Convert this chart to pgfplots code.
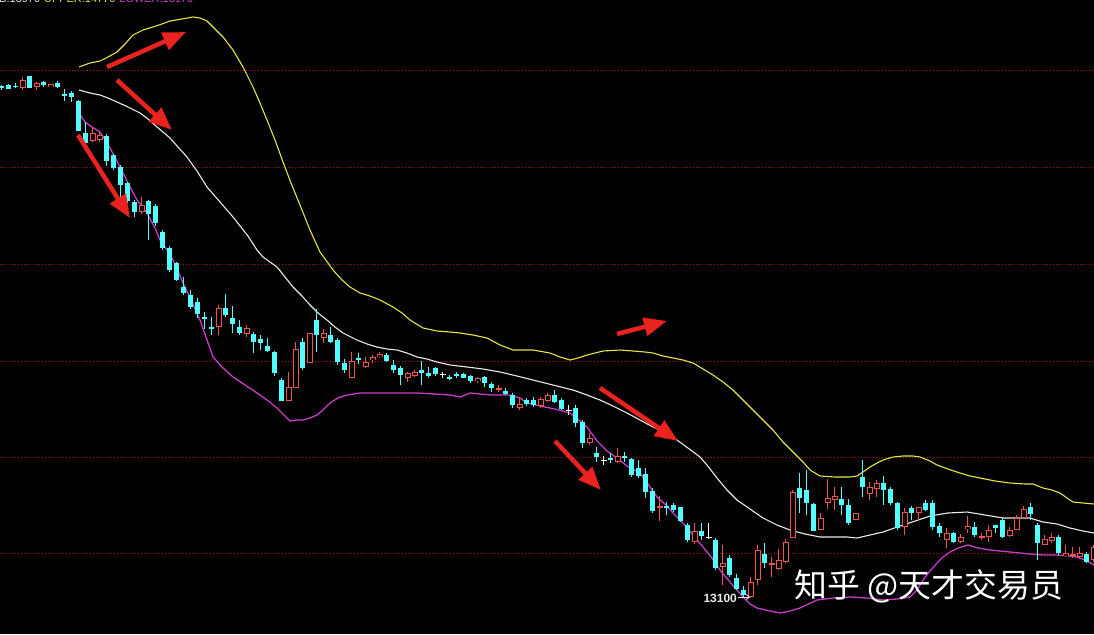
\documentclass[border=0pt]{standalone}
\usepackage{pgfplots}
\pgfplotsset{compat=1.18}
\usepackage{pgfplotstable}
\usepackage{fontspec}
\setmainfont{Liberation Sans}
\newfontfamily\cjk{Noto Sans CJK SC}
\usetikzlibrary{arrows.meta}
\definecolor{cyanc}{RGB}{84,255,255}
\definecolor{redc}{RGB}{235,85,75}
\definecolor{yel}{RGB}{230,230,70}
\definecolor{mag}{RGB}{200,60,200}
\definecolor{wht}{RGB}{235,235,235}
\definecolor{gridr}{RGB}{175,20,20}
\definecolor{arr}{RGB}{235,35,30}

% candles: i = candle index (x = 1.7 + 7 i px), h = high, t = body top, b = body bottom, l = low (screen rows)
\pgfplotstableread{
i h t b l
0 85 86 88 90
1 84 85 89 89
2 83 86 87 88
4 76 76 88 88
6 81 82 85 87
8 81 83 87 88
9 89 94 96 101
10 91 93 97 102
11 100 101 131 131
12 122 133 143 146
15 134 136 161 166
16 154 155 168 170
17 165 167 185 197
18 182 183 201 203
19 200 202 212 217
21 200 201 214 240
22 204 206 223 226
23 230 232 248 250
24 246 248 270 272
25 262 263 280 281
26 277 287 293 295
27 290 295 307 309
28 298 302 314 318
29 312 317 318 329
30 317 327 328 335
32 294 308 315 317
33 306 318 324 333
34 320 327 333 335
36 332 334 342 353
37 335 339 343 350
38 338 346 351 352
39 351 352 373 376
40 378 380 401 401
43 338 342 368 370
45 309 320 335 352
47 327 335 342 343
48 338 340 362 365
49 359 363 370 373
51 353 358 359 364
55 353 355 361 362
56 360 365 370 373
57 366 368 375 385
60 361 370 373 385
61 367 373 376 378
62 367 368 374 376
64 375 378 378 380
65 372 374 376 378
66 373 374 378 378
67 375 376 381 383
69 376 377 383 387
70 382 384 388 392
72 388 391 394 395
73 393 395 405 408
75 398 400 404 406
76 397 400 405 407
79 390 395 402 403
80 398 400 409 410
82 405 408 423 427
83 420 422 443 448
85 447 453 457 462
87 453 458 459 463
89 452 456 457 462
90 458 459 475 477
91 460 468 476 478
92 468 474 492 498
93 488 491 511 513
95 502 506 507 515
96 503 505 510 512
97 507 507 521 522
98 523 525 540 542
100 523 531 536 540
102 538 540 568 570
104 555 558 575 577
105 574 578 589 590
106 586 590 595 597
109 543 554 563 568
114 473 488 498 513
115 470 490 503 515
116 503 504 531 531
120 487 499 505 515
121 499 505 523 525
123 460 477 487 497
126 476 483 490 505
127 487 489 503 505
128 502 503 528 530
130 506 508 513 520
132 500 503 510 511
133 500 503 527 530
134 523 526 533 537
136 532 533 542 543
139 522 527 535 537
142 525 525 528 533
143 518 520 537 538
147 503 507 514 520
148 523 525 543 560
151 535 537 553 555
155 552 554 562 563
}\downtab

\pgfplotstableread{
i h t b l
3 77 80 88 90
5 82 83 87 90
7 84 84 87 87
13 128 133 141 142
14 132 135 140 142
20 197 205 212 214
31 305 308 327 335
35 325 328 334 337
41 372 387 401 401
42 342 349 388 388
44 333 333 363 363
46 329 333 338 343
50 352 361 378 378
52 357 362 367 368
53 355 357 360 363
54 352 354 357 358
58 372 373 378 382
59 370 372 376 377
68 377 378 381 383
71 385 388 390 392
74 397 404 408 410
77 397 399 406 408
78 393 395 401 402
84 433 438 443 445
88 448 456 462 463
94 496 506 507 521
99 523 531 542 544
103 545 563 567 585
107 577 582 597 598
108 545 550 580 585
110 557 563 565 577
111 549 560 569 570
112 539 542 562 563
113 490 492 538 538
117 513 518 530 530
118 479 498 503 509
119 487 496 500 510
122 513 513 520 520
124 482 487 494 500
125 480 483 489 497
129 508 512 527 535
131 507 507 513 520
135 528 533 540 548
137 534 537 542 543
138 516 526 529 533
140 533 536 538 540
141 525 530 537 542
144 527 530 536 537
145 515 518 530 530
146 506 509 518 518
149 535 539 545 545
150 533 537 541 543
152 545 553 556 557
153 547 554 556 558
154 547 553 557 558
156 545 547 560 562
}\uptab

\pgfplotstableread{
i h t b l
63 372 374 374 378
81 405 410 410 415
86 456 460 460 465
101 523 537 537 539
}\dojitab

\pgfplotstableread{
x y
79 67
90 63
100 61
108 57
117 52
125 44
133 35
143 30
153 27
162 24
170 21
182 19
193 17
200 18
207 21
213 27
223 37
233 50
243 67
253 87
260 103
267 120
275 140
283 162
291 183
300 205
310 230
320 252
333 270
342 280
350 287
360 293
370 296
380 300
393 307
402 313
410 320
423 328
437 331
450 332
460 333
473 335
487 338
500 345
513 350
533 350
550 353
560 357
570 360
578 358
587 355
595 353
603 351
620 350
633 351
645 352
653 353
663 356
673 358
683 360
693 363
703 369
713 375
723 382
733 390
743 400
753 410
763 420
773 430
783 442
793 452
803 462
810 470
820 476
835 477
850 477
857 476
863 472
870 467
877 463
883 460
893 457
903 456
913 456
920 457
930 461
937 465
948 469
960 473
970 476
980 478
995 481
1010 483
1025 484
1033 484
1043 488
1052 490
1060 493
1067 498
1073 502
1083 503
1094 504
}\uppertab

\pgfplotstableread{
x y
79 90
90 93
100 95
108 98
117 102
128 107
140 113
148 119
157 127
163 132
170 138
178 147
187 157
197 171
207 187
220 202
233 217
248 236
257 250
263 257
270 262
277 267
285 277
293 287
302 296
310 305
318 313
327 320
335 327
343 333
357 340
367 344
377 347
387 349
397 350
407 353
417 357
427 359
437 362
450 365
467 367
483 369
500 372
517 376
533 380
553 385
573 390
587 395
600 400
613 406
627 413
640 420
653 427
665 433
677 440
688 448
700 457
707 465
717 478
727 490
737 500
750 509
763 518
777 525
790 530
805 534
820 537
835 537
847 537
857 538
870 535
883 532
903 525
915 521
930 516
948 513
967 512
985 515
1003 518
1017 518
1030 518
1043 522
1057 524
1070 528
1083 531
1094 533
}\midtab

\pgfplotstableread{
x y
79 113
85 122
92 127
100 132
110 148
120 167
128 183
137 200
147 213
155 228
160 240
167 250
173 260
178 271
183 283
192 302
200 320
207 340
213 357
222 367
233 377
245 385
257 393
267 400
277 408
284 415
290 421
297 420
303 420
310 418
317 415
323 410
330 403
338 398
347 395
360 393
370 393
390 393
417 393
435 394
450 395
460 397
470 393
480 394
493 395
510 395
520 398
527 403
540 406
550 408
563 411
570 413
580 421
587 427
597 441
607 451
617 458
627 466
640 473
650 487
657 497
667 506
673 513
683 523
693 535
703 547
712 558
720 570
730 582
743 597
750 604
757 608
770 611
780 613
790 611
800 608
817 600
833 598
850 597
867 598
883 600
897 599
910 597
917 590
923 580
930 571
937 563
943 557
950 552
958 548
968 545
978 548
990 550
1010 552
1030 554
1043 555
1057 555
1070 556
1077 557
1085 560
1094 565
}\lowertab

\pgfplotsset{
  wick/.style={draw=none, mark=none, error bars/.cd, y dir=both, y explicit, error mark=none,
    error bar style={draw=#1, solid, line width=1bp}},
  body/.style 2 args={draw=none, mark=none, error bars/.cd, y dir=both, y explicit, error mark=none,
    error bar style={draw=#1, solid, line width=#2}},
}

\begin{document}
\begin{tikzpicture}
\begin{axis}[name=main,
  width=1094bp, height=634bp, scale only axis,
  xmin=0, xmax=1094, ymin=0, ymax=634, y dir=reverse,
  axis line style={draw=none},
  axis background/.style={fill=black},
  xtick=\empty,
  ytick={71,167.5,264,361,457.5,553},
  yticklabel=\empty,
  major tick length=0pt,
  ymajorgrids,
  grid style={draw=gridr, line width=1bp, dash pattern=on 1bp off 2bp},
  clip mode=global,
]
% Bollinger bands
\addplot[yel, line width=1.1bp] table[x=x, y=y] \uppertab;
\addplot[wht, line width=1.1bp] table[x=x, y=y] \midtab;
\addplot[mag, line width=1.3bp] table[x=x, y=y] \lowertab;

% wicks
\addplot[wick=cyanc] table[x expr=1.7+7*\thisrow{i}, y expr=(\thisrow{h}+\thisrow{l})/2, y error expr=(\thisrow{l}-\thisrow{h})/2] \downtab;
\addplot[wick=redc] table[x expr=1.7+7*\thisrow{i}, y expr=(\thisrow{h}+\thisrow{l})/2, y error expr=(\thisrow{l}-\thisrow{h})/2] \uptab;
\addplot[wick=white] table[x expr=1.7+7*\thisrow{i}, y expr=(\thisrow{h}+\thisrow{l})/2, y error expr=(\thisrow{l}-\thisrow{h})/2] \dojitab;

% bodies
\addplot[body={cyanc}{5bp}] table[x expr=1.7+7*\thisrow{i}, y expr=(\thisrow{t}+\thisrow{b})/2, y error expr={max((\thisrow{b}-\thisrow{t})/2,0.6)}] \downtab;
\addplot[body={redc}{6bp}] table[x expr=1.7+7*\thisrow{i}, y expr=(\thisrow{t}+\thisrow{b})/2, y error expr={max((\thisrow{b}-\thisrow{t})/2,0.6)}] \uptab;
\addplot[body={black}{4bp}] table[x expr=1.7+7*\thisrow{i}, y expr=(\thisrow{t}+\thisrow{b})/2, y error expr={max((\thisrow{b}-\thisrow{t})/2-1,0)}] \uptab;
\addplot[body={white}{6bp}] table[x expr=1.7+7*\thisrow{i}, y expr=(\thisrow{t}+\thisrow{b})/2, y error expr={0.5}] \dojitab;

% annotation arrows
\begin{scope}[arr, line width=4.5bp, -{Triangle[length=23bp,width=18bp]}]
\draw (axis cs:107,67) -- (axis cs:186,32);
\draw (axis cs:117,80) -- (axis cs:172,130);
\draw (axis cs:78,135) -- (axis cs:130,218);
\draw (axis cs:617,334) -- (axis cs:667,321);
\draw (axis cs:600,388) -- (axis cs:678,441);
\draw (axis cs:555,441) -- (axis cs:601,490);
\end{scope}

% low price label
\node[anchor=east, text=wht, font=\bfseries\fontsize{12}{12}\selectfont, inner sep=0pt] at (axis cs:737,598) {13100};
\draw[wht, line width=0.8bp, -{Straight Barb[length=3bp,width=5bp]}] (axis cs:738,597) -- (axis cs:750,597);

% header (cut by the top edge, as in the reference)
\node[anchor=base west, inner sep=0pt, font=\fontsize{11}{11}\selectfont] at (axis cs:-10,3)
  {\textcolor{wht}{MB:13970}\hspace{4bp}\textcolor{yel}{UPPER:14770}\hspace{4bp}\textcolor{mag}{LOWER:13170}};

% watermark
\node[text=white, font=\cjk\fontsize{33}{33}\selectfont, inner sep=0pt] at (axis cs:929,586) {知乎 @天才交易员};
\end{axis}
\pgfresetboundingbox
\path (main.south west) rectangle (main.north east);
\end{tikzpicture}
\end{document}
